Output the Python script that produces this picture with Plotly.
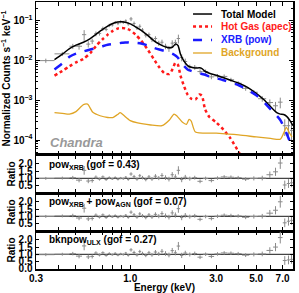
import math
import plotly.graph_objects as go

# ---------------- data ----------------
E_model = [0.38, 0.42, 0.46, 0.50, 0.55, 0.60, 0.65, 0.70, 0.75, 0.80, 0.85, 0.90, 0.95, 1.00,
           1.07, 1.15, 1.25, 1.35, 1.45, 1.55, 1.65, 1.72, 1.78, 1.84, 1.90, 1.98, 2.08, 2.18,
           2.30, 2.42, 2.50, 2.60, 2.75, 3.00, 3.30, 3.60, 4.00, 4.50, 5.00, 5.50, 6.00, 6.50,
           6.80, 7.10, 7.40, 7.70, 8.00]
total_model = [0.0106, 0.0145, 0.020, 0.0245, 0.029, 0.036, 0.047, 0.060, 0.074, 0.086, 0.094,
               0.095, 0.091, 0.084, 0.071, 0.058, 0.043, 0.032, 0.026, 0.0225, 0.021, 0.022,
               0.026, 0.024, 0.0145, 0.0100, 0.0075, 0.0068, 0.0065, 0.0066, 0.0063, 0.0054,
               0.0048, 0.0043, 0.0037, 0.0032, 0.0027, 0.0021, 0.0015, 0.00105, 0.0007,
               0.00049, 0.00045, 0.00044, 0.00039, 0.00031, 0.00023]
xrb_pow = [0.006, 0.0085, 0.0125, 0.015, 0.017, 0.019, 0.021, 0.023, 0.025, 0.026, 0.027, 0.028,
           0.0285, 0.029, 0.028, 0.027, 0.024, 0.021, 0.019, 0.0175, 0.016, 0.0148, 0.0135,
           0.0118, 0.0095, 0.0075, 0.0060, 0.0055, 0.0051, 0.0048, 0.0046, 0.0044, 0.0040,
           0.0036, 0.0032, 0.0028, 0.0024, 0.0018, 0.00135, 0.00092, 0.0006, 0.00041, 0.00032,
           0.00022, 0.00014, 0.00009, 0.00006]
E_apec = [0.38, 0.42, 0.46, 0.50, 0.55, 0.60, 0.65, 0.70, 0.75, 0.80, 0.85, 0.90, 0.95, 1.00,
          1.07, 1.15, 1.25, 1.35, 1.45, 1.55, 1.65, 1.72, 1.78, 1.84, 1.90, 1.98, 2.08, 2.18,
          2.30, 2.42, 2.50, 2.60, 2.75, 3.00, 3.30, 3.60, 4.00, 4.50]
hot_gas = [0.0042, 0.0055, 0.0072, 0.009, 0.011, 0.0155, 0.024, 0.034, 0.045, 0.056, 0.064,
           0.066, 0.064, 0.058, 0.045, 0.032, 0.019, 0.011, 0.0068, 0.0048, 0.0046, 0.0062,
           0.0088, 0.0078, 0.0042, 0.0024, 0.0014, 0.0011, 0.00105, 0.0014, 0.0013, 0.0006,
           0.00038, 0.00028, 0.00018, 0.00011, 0.00005, 0.00002]
E_bkg = [0.38, 0.42, 0.46, 0.50, 0.55, 0.58, 0.62, 0.68, 0.75, 0.80, 0.85, 0.88, 0.92, 1.00,
         1.10, 1.30, 1.50, 1.65, 1.75, 1.82, 1.95, 2.05, 2.12, 2.18, 2.30, 3.00, 4.00, 5.00,
         6.00, 6.80, 7.10, 7.35, 7.60, 7.90]
background = [0.00049, 0.00047, 0.00045, 0.00052, 0.00078, 0.0008, 0.0005, 0.00041, 0.00037,
              0.00037, 0.00044, 0.00049, 0.00042, 0.00031, 0.00027, 0.00024, 0.00023, 0.00032,
              0.00045, 0.00040, 0.00028, 0.00025, 0.00033, 0.0003, 0.00016, 0.00015, 0.000135,
              0.00012, 0.00011, 0.000105, 0.00015, 0.00021, 0.00016, 0.00012]

E_bin = [0.34, 0.42, 0.48, 0.52, 0.555, 0.585, 0.615, 0.645, 0.675, 0.705, 0.735, 0.765, 0.795,
         0.825, 0.855, 0.885, 0.915, 0.945, 0.975, 1.01, 1.05, 1.09, 1.13, 1.17, 1.22, 1.27,
         1.32, 1.38, 1.44, 1.50, 1.57, 1.64, 1.71, 1.78, 1.85, 1.93, 2.02, 2.14, 2.28, 2.44,
         2.62, 2.82, 3.05, 3.32, 3.62, 3.97, 4.37, 4.85, 5.40, 5.95, 6.40, 6.80, 7.20, 7.55, 7.85]
E_halfwidth = [0.04, 0.04, 0.02, 0.02, 0.015, 0.015, 0.015, 0.015, 0.015, 0.015, 0.015, 0.015,
               0.015, 0.015, 0.015, 0.015, 0.015, 0.015, 0.015, 0.02, 0.02, 0.02, 0.02, 0.02,
               0.025, 0.025, 0.025, 0.03, 0.03, 0.03, 0.035, 0.035, 0.035, 0.035, 0.04, 0.04,
               0.05, 0.06, 0.07, 0.08, 0.09, 0.1, 0.12, 0.14, 0.15, 0.18, 0.2, 0.25, 0.28,
               0.25, 0.2, 0.2, 0.18, 0.16, 0.14]
counts = [0.0100, 0.0148, 0.023, 0.023, 0.045, 0.026, 0.031, 0.0475, 0.0485, 0.064, 0.061,
          0.077, 0.079, 0.091, 0.086, 0.095, 0.092, 0.100, 0.084, 0.112, 0.086, 0.067, 0.073,
          0.059, 0.044, 0.045, 0.034, 0.036, 0.0275, 0.029, 0.023, 0.020, 0.0275, 0.0285,
          0.036, 0.012, 0.0095, 0.0069, 0.0068, 0.0053, 0.0053, 0.0039, 0.0041, 0.0040,
          0.0033, 0.0027, 0.0020, 0.0016, 0.0011, 0.00088, 0.00073, 0.0009, 0.00023,
          0.00023, 0.000175]
frac_err = [0.12, 0.12, 0.15, 0.18, 0.30, 0.18, 0.16, 0.14, 0.12, 0.12, 0.10, 0.10, 0.09,
            0.09, 0.09, 0.09, 0.09, 0.09, 0.10, 0.12, 0.12, 0.12, 0.12, 0.12, 0.13, 0.13,
            0.14, 0.14, 0.15, 0.16, 0.16, 0.17, 0.18, 0.18, 0.25, 0.20, 0.18, 0.15, 0.14,
            0.14, 0.13, 0.13, 0.12, 0.12, 0.12, 0.12, 0.13, 0.14, 0.16, 0.20, 0.25, 0.30,
            0.45, 0.45, 0.45]

ratio_xrb = [1.00, 1.02, 1.05, 0.88, 1.55, 0.82, 0.85, 1.08, 0.95, 1.10, 0.92, 1.05, 0.97,
             1.06, 0.94, 1.02, 0.98, 1.08, 0.93, 1.30, 1.12, 0.95, 1.18, 1.05, 0.92, 1.10,
             0.96, 1.15, 1.02, 1.20, 1.05, 0.95, 1.25, 1.10, 1.55, 0.92, 1.08, 0.98, 1.05,
             0.80, 1.00, 0.85, 1.02, 1.10, 1.08, 1.05, 0.95, 1.00, 1.02, 1.25, 1.45, 2.05,
             0.55, 0.65, 0.70]
ratio_agn = [1.00, 1.03, 1.06, 0.89, 1.56, 0.83, 0.86, 1.08, 0.95, 1.10, 0.92, 1.05, 0.97,
             1.06, 0.94, 1.02, 0.98, 1.08, 0.93, 1.29, 1.11, 0.95, 1.17, 1.04, 0.92, 1.10,
             0.96, 1.14, 1.01, 1.19, 1.04, 0.95, 1.24, 1.09, 1.53, 0.92, 1.07, 0.98, 1.04,
             0.80, 0.99, 0.85, 1.01, 1.08, 1.06, 1.03, 0.94, 0.99, 1.01, 1.22, 1.42, 2.00,
             0.56, 0.67, 0.73]
ratio_ulx = [0.98, 1.01, 1.05, 0.88, 1.58, 0.83, 0.86, 1.09, 0.96, 1.11, 0.93, 1.06, 0.98,
             1.07, 0.95, 1.03, 0.99, 1.09, 0.94, 1.31, 1.13, 0.96, 1.19, 1.06, 0.93, 1.11,
             0.97, 1.16, 1.03, 1.21, 1.06, 0.96, 1.26, 1.11, 1.57, 0.93, 1.09, 0.99, 1.06,
             0.81, 1.01, 0.86, 1.03, 1.10, 1.08, 1.05, 0.95, 1.00, 1.03, 1.27, 1.50, 2.15,
             0.58, 0.62, 0.66]
ratio_err = [0.10, 0.10, 0.12, 0.15, 0.30, 0.15, 0.14, 0.12, 0.10, 0.10, 0.09, 0.09, 0.08,
             0.08, 0.08, 0.08, 0.08, 0.08, 0.09, 0.12, 0.12, 0.11, 0.12, 0.12, 0.12, 0.13,
             0.13, 0.14, 0.14, 0.16, 0.16, 0.16, 0.18, 0.18, 0.28, 0.18, 0.16, 0.14, 0.13,
             0.13, 0.12, 0.12, 0.12, 0.12, 0.12, 0.12, 0.13, 0.14, 0.16, 0.22, 0.28, 0.40,
             0.30, 0.30, 0.30]

legend_names = ["Total Model", "Hot Gas (apec)", "XRB (pow)", "Background"]
panel_labels = ["pow<sub>XRB</sub> (gof = 0.43)",
                "pow<sub>XRB</sub> + pow<sub>AGN</sub> (gof = 0.07)",
                "bknpow<sub>ULX</sub> (gof = 0.27)"]
x_tickvals = [0.3, 0.4, 0.5, 0.6, 0.7, 0.8, 0.9, 1.0, 2.0, 3.0, 4.0, 5.0, 6.0, 7.0]
x_ticktext = ["0.3", "", "", "", "", "", "", "1.0", "", "3.0", "", "5.0", "", "7.0"]
y_tickvals = [1e-4, 1e-3, 1e-2, 1e-1]
y_ticktext = ["10<sup>−4</sup>", "10<sup>−3</sup>", "10<sup>−2</sup>", "10<sup>−1</sup>"]

# ---------------- styling ----------------
GRAY = "#8a8a8a"
FONT = "Liberation Sans, Arial, sans-serif"
C_TOTAL, C_GAS, C_XRB, C_BKG = "black", "#ff1a1a", "#1a1aff", "#e0a526"
styles = [dict(color=C_TOTAL, width=1.5), dict(color=C_GAS, width=2.5, dash="dot"),
          dict(color=C_XRB, width=2.5, dash="dash"), dict(color=C_BKG, width=1.3)]

fig = go.Figure()

main_err = [c * f for c, f in zip(counts, frac_err)]
fig.add_trace(go.Scatter(x=E_bin, y=counts, mode="markers", marker=dict(size=1, color=GRAY, opacity=0),
                         error_x=dict(type="data", array=E_halfwidth, color=GRAY, thickness=1, width=0),
                         error_y=dict(type="data", array=main_err, color=GRAY, thickness=1, width=0),
                         showlegend=False, xaxis="x", yaxis="y", hoverinfo="skip"))
series = [(E_model, total_model), (E_apec, hot_gas), (E_model, xrb_pow), (E_bkg, background)]
for (xs, ys), st in zip(series, styles):
    fig.add_trace(go.Scatter(x=xs, y=ys, mode="lines",
                             line=dict(st, shape="spline", smoothing=0.6),
                             showlegend=False, xaxis="x", yaxis="y"))

ratios = [ratio_xrb, ratio_agn, ratio_ulx]
for i, r in enumerate(ratios):
    xa = "x%d" % (i + 2)
    ya = "y%d" % (i + 2)
    fig.add_trace(go.Scatter(x=[0.3, 8.1], y=[1.0, 1.0], mode="lines", line=dict(color="#444444", width=1.2),
                             showlegend=False, xaxis=xa, yaxis=ya, hoverinfo="skip"))
    fig.add_trace(go.Scatter(x=E_bin, y=r, mode="markers", marker=dict(size=1, color=GRAY, opacity=0),
                             error_x=dict(type="data", array=E_halfwidth, color=GRAY, thickness=1, width=0),
                             error_y=dict(type="data", array=ratio_err, color=GRAY, thickness=1, width=0),
                             showlegend=False, xaxis=xa, yaxis=ya, hoverinfo="skip"))

xr = [math.log10(0.3), math.log10(8.0)]
tickfont = dict(family=FONT, size=10, color="black", weight="bold")
axis_common = dict(showline=True, linecolor="black", linewidth=1.5, mirror="ticks",
                   ticks="inside", ticklen=4, tickwidth=1, tickcolor="black",
                   showgrid=False, zeroline=False, tickfont=tickfont, automargin=False)

doms = [[0.427, 1.0], [0.2846, 0.427], [0.1423, 0.2846], [0.0, 0.1423]]
layout = dict(width=299, height=293, autosize=False,
              margin=dict(l=36, r=6, t=2, b=24, pad=0),
              paper_bgcolor="white", plot_bgcolor="white", showlegend=False,
              font=dict(family=FONT, size=10, color="black"))

for i in range(4):
    xk = "xaxis" if i == 0 else "xaxis%d" % (i + 1)
    yk = "yaxis" if i == 0 else "yaxis%d" % (i + 1)
    anchor_y = "y" if i == 0 else "y%d" % (i + 1)
    anchor_x = "x" if i == 0 else "x%d" % (i + 1)
    xa = dict(axis_common, type="log", range=xr, domain=[0, 1], anchor=anchor_y,
              tickvals=x_tickvals, ticktext=x_ticktext, showticklabels=(i == 3))
    if i > 0:
        xa["matches"] = "x"
    if i == 3:
        xa["title"] = dict(text="Energy (keV)", font=dict(family=FONT, size=10, weight="bold"), standoff=1)
        xa["ticklabelstandoff"] = -1
    layout[xk] = xa
    if i == 0:
        minor_vals = [k * 10 ** e for e in range(-5, 0) for k in range(2, 10)]
        ya = dict(axis_common, type="log", range=[-4.375, -0.525], domain=doms[0], anchor=anchor_x,
                  tickvals=y_tickvals, ticktext=y_ticktext,
                  minor=dict(ticks="inside", ticklen=2, tickcolor="black", tickvals=minor_vals, showgrid=False),
                  title=dict(text="Normalized Counts s<sup>−1</sup> keV<sup>−1</sup>",
                             font=dict(family=FONT, size=10, weight="bold"), standoff=1))
    else:
        tv = [0.5, 1.0, 1.5, 2.0] if i < 3 else [0.0, 0.5, 1.0, 1.5, 2.0]
        ya = dict(axis_common, range=[0, 2.6], domain=doms[i], anchor=anchor_x,
                  tickvals=tv, ticktext=["%.1f" % v for v in tv], ticklen=3,
                  title=dict(text="Ratio", font=dict(family=FONT, size=10, weight="bold"), standoff=1))
    layout[yk] = ya

# manual legend (compact rows like the reference)
shapes = []
annots = []
leg_y = [0.955, 0.908, 0.858, 0.809]
for name, st, yy in zip(legend_names, styles, leg_y):
    shapes.append(dict(type="line", xref="paper", yref="paper", x0=0.611, x1=0.685, y0=yy, y1=yy,
                       line=dict(color=st["color"], width=st["width"], dash=st.get("dash", "solid"))))
    annots.append(dict(text=name, x=0.712, y=yy, xref="paper", yref="paper", xanchor="left",
                       yanchor="middle", showarrow=False,
                       font=dict(family=FONT, size=10, color=st["color"], weight="bold")))

annots.append(dict(text="<i>Chandra</i>", x=0.047, y=0.472, xref="paper", yref="paper", xanchor="left",
                   yanchor="middle", showarrow=False,
                   font=dict(family=FONT, size=13, color="#999999", weight="bold")))
label_y = [0.39, 0.252, 0.1086]
for lab, yy in zip(panel_labels, label_y):
    annots.append(dict(text=lab, x=0.043, y=yy, xref="paper", yref="paper", xanchor="left",
                       yanchor="middle", showarrow=False,
                       font=dict(family=FONT, size=10, color="black", weight="bold")))
layout["annotations"] = annots
layout["shapes"] = shapes

fig.update_layout(**layout)
fig.write_html("out.html", config={"displayModeBar": False, "staticPlot": True},
               post_script="document.body.style.margin='0px';document.body.style.overflow='hidden';")
